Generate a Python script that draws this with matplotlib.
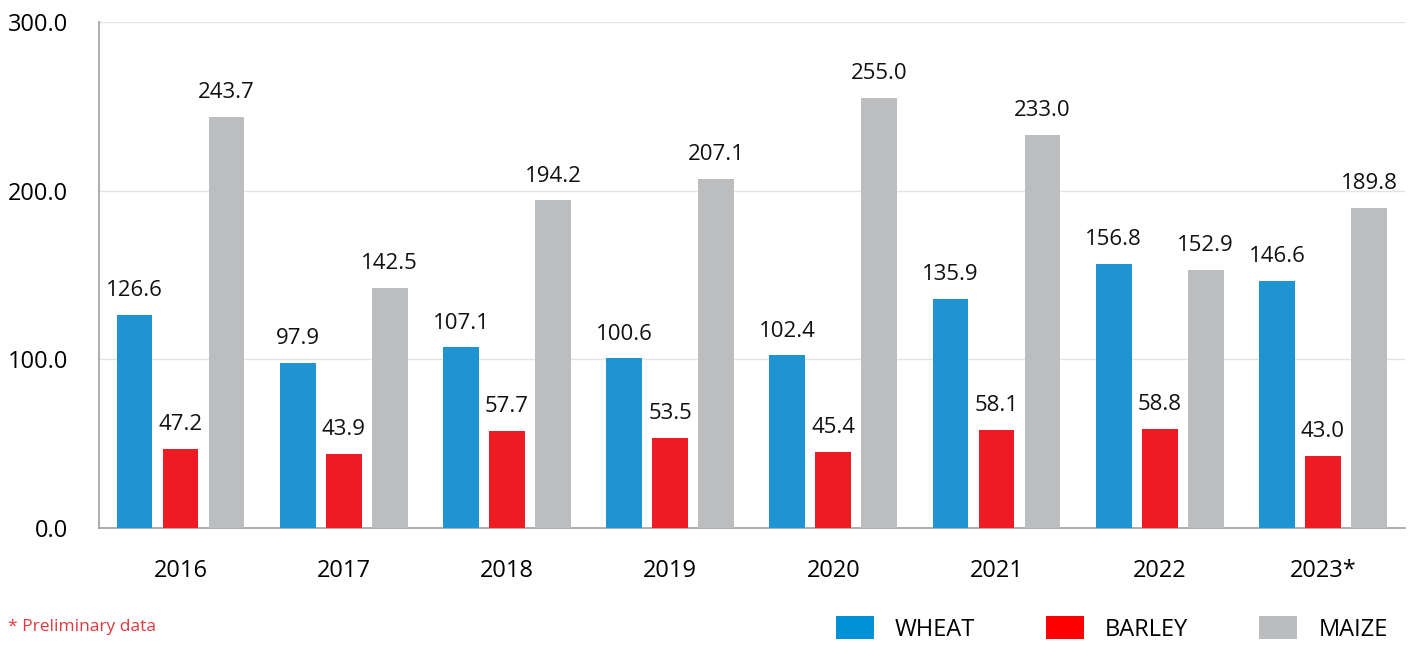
import matplotlib
matplotlib.use("Agg")
import matplotlib.pyplot as plt
import numpy as np
from matplotlib.patches import Patch

# Dados
anos = ["2016", "2017", "2018", "2019", "2020", "2021", "2022", "2023*"]
trigo = [126.6, 97.9, 107.1, 100.6, 102.4, 135.9, 156.8, 146.6]
cevada = [47.2, 43.9, 57.7, 53.5, 45.4, 58.1, 58.8, 43.0]
milho = [243.7, 142.5, 194.2, 207.1, 255.0, 233.0, 152.9, 189.8]
series = ["WHEAT", "BARLEY", "MAIZE"]

AZUL = "#2093D1"
VERMELHO = "#ED1C24"
CINZA = "#BCBDBF"
plt.rcParams["font.family"] = ["Open Sans", "DejaVu Sans"]

fig = plt.figure(figsize=(14.13, 6.45), dpi=100)
ax = fig.add_axes([0.070, 0.181, 0.924, 0.785])

x = np.arange(len(anos))
largura = 0.22
desloc = 0.282
for valores, cor, d in ((trigo, AZUL, -desloc), (cevada, VERMELHO, 0), (milho, CINZA, desloc)):
    barras = ax.bar(x + d, valores, width=largura, color=cor, zorder=3)
    for b, v in zip(barras, valores):
        ax.annotate(f"{v:.1f}", (b.get_x() + b.get_width() / 2, v), xytext=(0, 10),
                    textcoords="offset points", ha="center", va="bottom", fontsize=16,
                    color="#111111")

ax.set_xlim(-0.5, len(anos) - 0.5)
ax.set_ylim(0, 300)
ax.set_yticks([0, 100, 200, 300])
ax.set_yticklabels([f"{v:.1f}" for v in [0, 100, 200, 300]], fontsize=17)
ax.set_xticks(x)
ax.set_xticklabels(anos, fontsize=17)
ax.tick_params(axis="x", length=0, pad=22)
ax.tick_params(axis="y", length=0, pad=22)
ax.grid(axis="y", color="#E3E3E3", lw=1.0, zorder=0)
for lado in ("top", "right"):
    ax.spines[lado].set_visible(False)
ax.spines["left"].set_color("#A0A0A0")
ax.spines["bottom"].set_color("#A0A0A0")
ax.spines["left"].set_linewidth(1.2)
ax.spines["bottom"].set_linewidth(1.2)

fig.text(0.006, 0.022, "* Preliminary data", fontsize=12.5, color="#E0393E")

alcas = [Patch(facecolor=c, edgecolor="none") for c in ("#0090D6", "#FF0000", "#BBBCBE")]
fig.legend(alcas, series, loc="lower right", bbox_to_anchor=(0.997, -0.028), ncol=3,
           frameon=False, fontsize=17, handlelength=1.6, handleheight=1.1,
           columnspacing=3.0, handletextpad=0.9)

fig.savefig("out.png", dpi=100, facecolor="white")
